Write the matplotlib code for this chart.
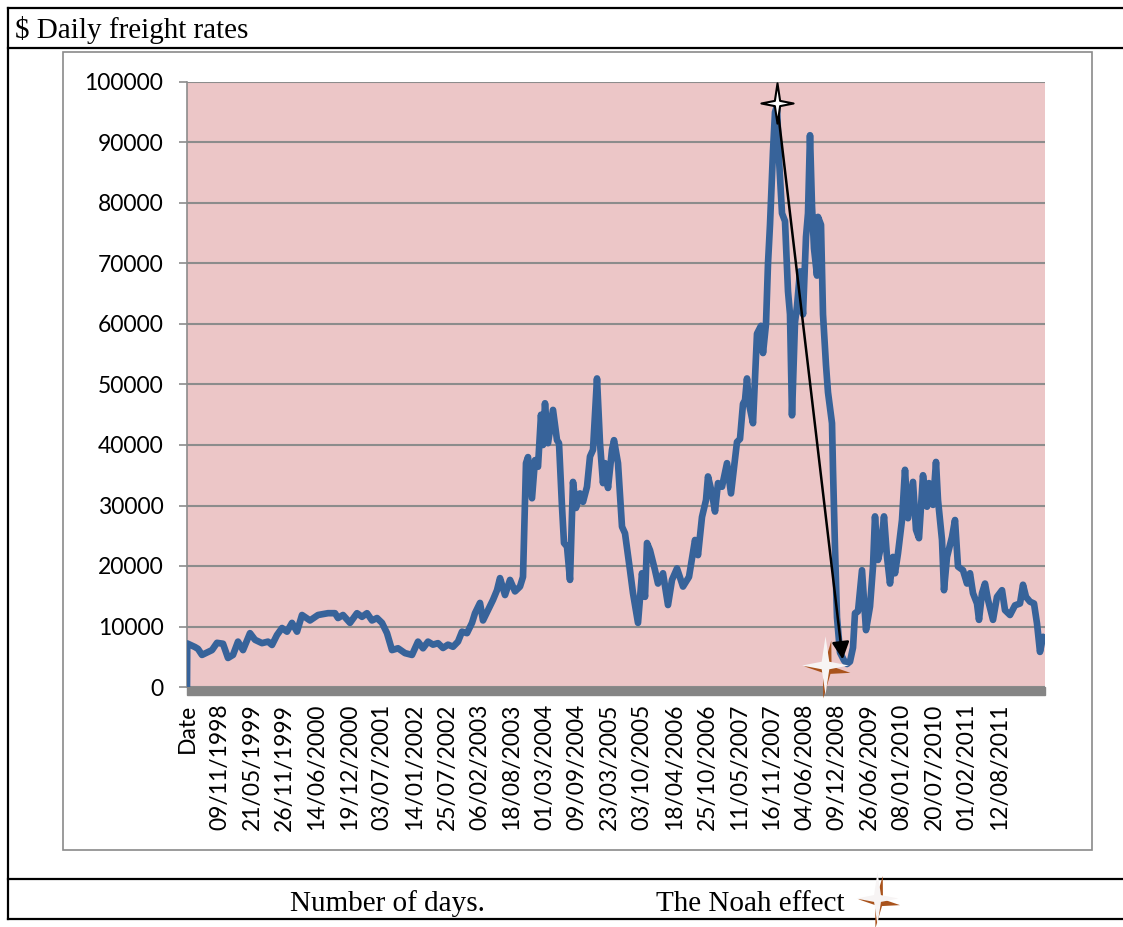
import matplotlib
matplotlib.use('Agg')
import matplotlib.pyplot as plt
import numpy as np
from matplotlib.lines import Line2D
from matplotlib.patches import Rectangle
from matplotlib.markers import MarkerStyle
from matplotlib.transforms import Affine2D
from matplotlib.path import Path

# trading-day index of each reading and the daily rate ($)
days = [0, 1, 32, 44, 60, 100, 120, 144, 164, 184, 204, 224, 252, 272, 300, 324, 340, 360, 380, 400,
        420, 440, 460, 492, 524, 564, 592, 604, 624, 652, 680, 700, 720, 740, 760, 780, 800, 820, 844, 872,
        900, 924, 944, 964, 984, 1004, 1024, 1044, 1064, 1084, 1100, 1120, 1140, 1152, 1172, 1184, 1204, 1224, 1240, 1252,
        1272, 1292, 1312, 1332, 1344, 1356, 1364, 1380, 1392, 1404, 1416, 1424, 1432, 1444, 1464, 1480, 1488, 1500, 1508, 1520,
        1532, 1544, 1556, 1572, 1584, 1600, 1612, 1624, 1640, 1652, 1664, 1672, 1684, 1700, 1708, 1724, 1740, 1752, 1772, 1784,
        1804, 1820, 1832, 1840, 1852, 1872, 1884, 1904, 1924, 1940, 1960, 1984, 2008, 2032, 2044, 2060, 2076, 2084, 2100, 2112,
        2124, 2140, 2160, 2176, 2200, 2212, 2224, 2232, 2240, 2248, 2264, 2280, 2296, 2304, 2316, 2324, 2332, 2344, 2352, 2360,
        2368, 2380, 2392, 2404, 2412, 2420, 2432, 2440, 2452, 2464, 2476, 2484, 2492, 2500, 2508, 2520, 2524, 2536, 2544, 2556,
        2564, 2580, 2584, 2592, 2600, 2612, 2628, 2640, 2652, 2664, 2672, 2684, 2700, 2716, 2732, 2744, 2752, 2764, 2776, 2788,
        2800, 2812, 2824, 2832, 2844, 2860, 2872, 2884, 2904, 2916, 2928, 2944, 2960, 2968, 2984, 2996, 3004, 3020, 3028, 3040,
        3060, 3072, 3084, 3104, 3120, 3132, 3144, 3160, 3168, 3180, 3192, 3204, 3224, 3240, 3260, 3272, 3292, 3312, 3332, 3344,
        3356, 3372, 3388, 3400, 3412, 3424]
rates = [0, 7200, 6600, 6300, 5300, 6100, 7300, 7150, 4800, 5300, 7500, 6100, 8900, 7800, 7250, 7500, 6950, 8600, 9750, 9150,
         10600, 9150, 11900, 11000, 11900, 12200, 12200, 11400, 11900, 10600, 12200, 11600, 12200, 11000, 11400, 10600, 8900, 6100, 6400, 5600,
         5300, 7500, 6400, 7500, 7000, 7250, 6450, 7000, 6650, 7500, 9150, 8900, 10600, 12200, 13900, 11000, 12700, 14400, 16000, 18000,
         15200, 17700, 15800, 16600, 18200, 37000, 38000, 31200, 37500, 36400, 45000, 40000, 46900, 40300, 45800, 40800, 40300, 29800, 23800, 23200,
         17700, 33900, 29600, 32000, 30600, 33100, 38100, 39200, 51000, 40300, 33700, 37000, 32900, 39200, 40800, 37000, 26500, 25400, 19300, 15500,
         10600, 18800, 14900, 23800, 22600, 19300, 17100, 18800, 13550, 17700, 19600, 16600, 18200, 24300, 21800, 28100, 30900, 34800, 32000, 29000,
         33700, 33100, 37000, 32000, 40500, 41000, 46800, 47400, 51000, 46800, 43600, 58400, 59700, 55200, 60000, 70000, 76400, 88600, 95000, 96000,
         87300, 78300, 77000, 65400, 61600, 44900, 60300, 62900, 68700, 61600, 74400, 78300, 91200, 79500, 72500, 68000, 77700, 76400, 61600, 53200,
         48700, 43600, 35900, 23000, 11500, 5700, 4400, 3800, 4200, 6500, 12200, 12500, 19300, 9400, 13300, 19900, 28200, 21000, 23200, 28200,
         21500, 17100, 21500, 18800, 22100, 27600, 35900, 27900, 33900, 26000, 24600, 35000, 29800, 33700, 30100, 37200, 30900, 24300, 16000, 21500,
         24800, 27600, 19900, 19300, 17100, 18800, 15500, 13800, 11100, 15500, 17100, 14400, 11100, 14900, 16000, 12700, 11900, 13500, 13800, 16900,
         14900, 14100, 13800, 10500, 5800, 8300]

tick_labels = ['Date', '09/11/1998', '21/05/1999', '26/11/1999', '14/06/2000', '19/12/2000', '03/07/2001',
               '14/01/2002', '25/07/2002', '06/02/2003', '18/08/2003', '01/03/2004', '09/09/2004', '23/03/2005',
               '03/10/2005', '18/04/2006', '25/10/2006', '11/05/2007', '16/11/2007', '04/06/2008', '09/12/2008',
               '26/06/2009', '08/01/2010', '20/07/2010', '01/02/2011', '12/08/2011']
label_step = 130  # one category label every 130 days
last_day = 3432

W, H = 1123, 927
fig = plt.figure(figsize=(W / 100, H / 100), dpi=100)
fig.patch.set_facecolor('white')

def fx(px):
    return px / W

def fy(py):
    return 1 - py / H

# table frame (open on the right, cut by the page edge)
for py in (8, 48, 879, 919):
    fig.add_artist(Line2D([fx(8), 1.0], [fy(py), fy(py)], color='black', lw=1.6))
fig.add_artist(Line2D([fx(8), fx(8)], [fy(8), fy(919)], color='black', lw=1.6))

# chart area border
fig.add_artist(Rectangle((fx(63), fy(850)), fx(1092) - fx(63), fy(52) - fy(850),
                         transform=fig.transFigure, fill=False, ec='#8a8a8a', lw=1.2))

serif = 'Liberation Serif'
fig.text(fx(15), fy(38), '$ Daily freight rates', fontfamily=serif, fontsize=21, va='baseline')
fig.text(fx(290), fy(911), 'Number of days.', fontfamily=serif, fontsize=21, va='baseline')
fig.text(fx(656), fy(911), 'The Noah effect', fontfamily=serif, fontsize=21, va='baseline')

ax = fig.add_axes([fx(187), fy(687), fx(1045) - fx(187), fy(82) - fy(687)])
ax.set_facecolor('#ecc6c7')
ax.set_xlim(0, last_day)
ax.set_ylim(0, 100000)
ax.set_yticks(np.arange(0, 100001, 10000))
ax.yaxis.grid(True, color='#8c8c8c', lw=1.5)
ax.set_axisbelow(True)
for s in ('top', 'right', 'bottom'):
    ax.spines[s].set_visible(False)
ax.spines['left'].set_color('#8c8c8c')
ax.spines['left'].set_linewidth(1.2)
ax.tick_params(axis='y', length=6, width=1.2, color='#8c8c8c', pad=11, labelsize=16.5)
ax.set_xticks(np.arange(len(tick_labels)) * label_step)
ax.set_xticklabels(tick_labels, rotation=90, fontsize=16.5)
ax.tick_params(axis='x', length=0, pad=12)
for lab in ax.get_xticklabels() + ax.get_yticklabels():
    lab.set_fontfamily('Lato')

# thick gray floor under the axis
ax.add_patch(Rectangle((0, -0.014), 1, 0.014, transform=ax.transAxes, color='#858585',
                       clip_on=False, zorder=3))

ax.plot(days, rates, color='#37639a', lw=4.8, solid_joinstyle='round', solid_capstyle='round', zorder=4)

# arrow from the peak to the following trough
i_peak = int(np.argmax(rates))
i_low = i_peak + int(np.argmin(rates[i_peak:]))
ax.annotate('', xy=(days[i_low] - 16, rates[i_low] + 300), xytext=(days[i_peak], rates[i_peak] + 500),
            arrowprops=dict(arrowstyle='-|>', color='black', lw=1.8, mutation_scale=26), zorder=6)

star_path = Path([(0, 1), (0.13, 0.13), (0.8, 0), (0.13, -0.13), (0, -1), (-0.13, -0.13), (-0.8, 0),
                  (-0.13, 0.13), (0, 1)], closed=True)

ax.plot(days[i_peak], rates[i_peak] + 500, marker=MarkerStyle(star_path), markersize=29,
        mfc='white', mec='black', mew=1.5, zorder=7)

def noah_star(x, y, trans, size):
    brown = MarkerStyle(star_path, transform=Affine2D().rotate_deg(-8).translate(0.03, -0.07))
    white = MarkerStyle(star_path)
    for m, c in ((brown, '#a9531c'), (white, '#f7f4f4')):
        fig.add_artist(Line2D([x], [y], transform=trans, marker=m, markersize=size,
                              mfc=c, mec='none', ls='none', zorder=8))

noah_star(0.744, 0.036, ax.transAxes, 42)
noah_star(fx(877), fy(898), fig.transFigure, 38)

fig.savefig('out.png', dpi=100)
